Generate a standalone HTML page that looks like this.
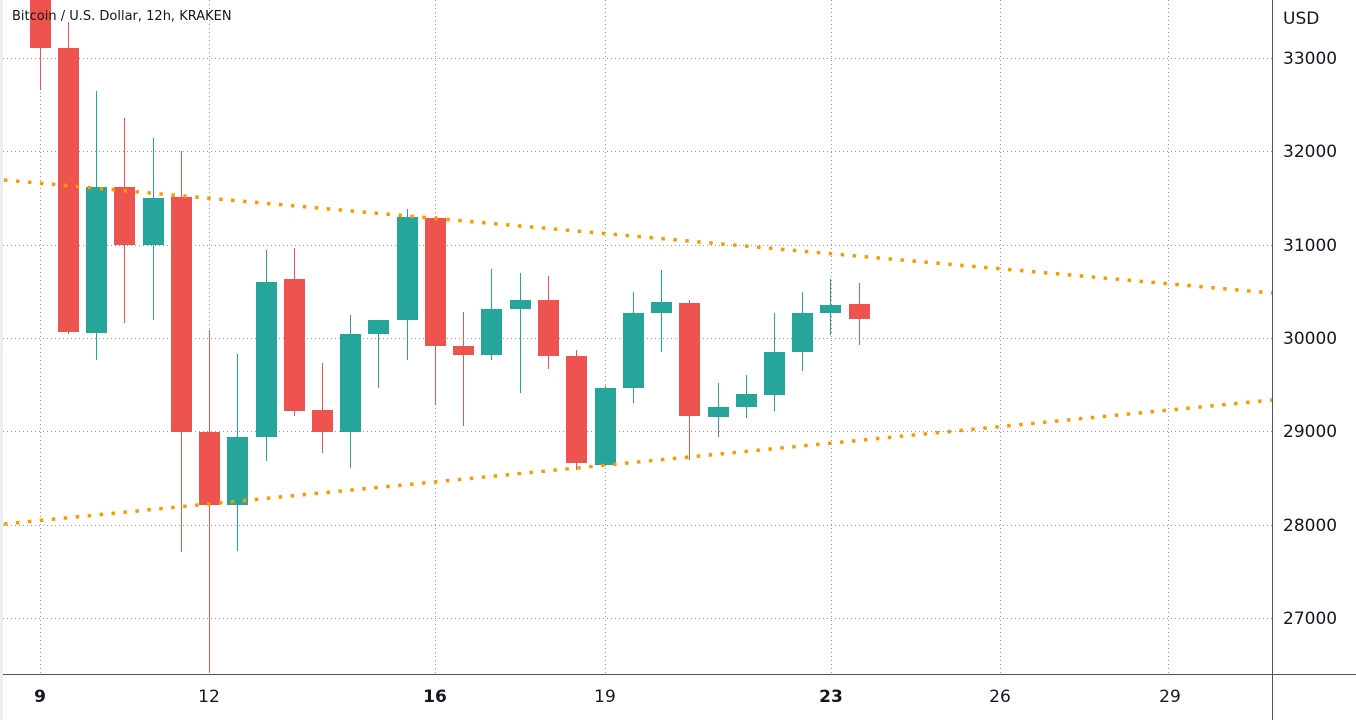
<!DOCTYPE html>
<html><head><meta charset="utf-8"><style>
html,body{margin:0;padding:0;background:#fff;}
svg{display:block;font-family:"DejaVu Sans","Liberation Sans",sans-serif;}
</style></head><body>
<svg width="1356" height="720" viewBox="0 0 1356 720" xmlns="http://www.w3.org/2000/svg">
<rect x="0" y="0" width="1356" height="720" fill="#fff"/>
<rect x="0" y="0" width="3" height="720" fill="#eceef3"/>
<g stroke="#9598a1" stroke-width="1" stroke-dasharray="1,3">
<line x1="3" y1="58.5" x2="1272" y2="58.5"/><line x1="3" y1="151.5" x2="1272" y2="151.5"/>
<line x1="3" y1="245.5" x2="1272" y2="245.5"/><line x1="3" y1="338.5" x2="1272" y2="338.5"/>
<line x1="3" y1="431.5" x2="1272" y2="431.5"/><line x1="3" y1="525.5" x2="1272" y2="525.5"/>
<line x1="3" y1="618.5" x2="1272" y2="618.5"/>
<line x1="40.5" y1="0" x2="40.5" y2="674"/><line x1="209.5" y1="0" x2="209.5" y2="674"/>
<line x1="435.5" y1="0" x2="435.5" y2="674"/><line x1="605.5" y1="0" x2="605.5" y2="674"/>
<line x1="831.5" y1="0" x2="831.5" y2="674"/><line x1="1000.5" y1="0" x2="1000.5" y2="674"/>
<line x1="1168.5" y1="0" x2="1168.5" y2="674"/>
</g>
<g id="c"></g>
<g stroke="#ff9800" stroke-width="3.5" stroke-dasharray="3.5,8.5">
<line x1="4" y1="180" x2="1272" y2="293"/>
<line x1="4" y1="524" x2="1272" y2="400"/>
</g>
<line x1="1272.5" y1="0" x2="1272.5" y2="720" stroke="#50535e" stroke-width="1"/>
<line x1="3" y1="674.5" x2="1356" y2="674.5" stroke="#50535e" stroke-width="1"/>
<text x="12" y="20" font-size="13" fill="#131722">Bitcoin / U.S. Dollar, 12h, KRAKEN</text>
<g font-size="17" fill="#131722">
<text x="1283" y="24">USD</text>
<text x="1283" y="64">33000</text><text x="1283" y="157">32000</text>
<text x="1283" y="251">31000</text><text x="1283" y="344">30000</text>
<text x="1283" y="437">29000</text><text x="1283" y="531">28000</text>
<text x="1283" y="624">27000</text>
</g>
<g font-size="17" fill="#131722" text-anchor="middle">
<text x="40" y="702" font-weight="bold">9</text>
<text x="209" y="702">12</text>
<text x="435" y="702" font-weight="bold">16</text>
<text x="605" y="702">19</text>
<text x="831" y="702" font-weight="bold">23</text>
<text x="1000" y="702">26</text>
<text x="1170" y="702">29</text>
</g>
</svg>
<script>
var d=[[40,'r',-5,48,-5,90],[68,'r',48,332,22,334],[96,'g',187,333,91,360],[124,'r',187,245,118,323],[153,'g',198,245,138,320],[181,'r',197,432,151,552],[209,'r',432,505,330,672],[237,'g',437,505,354,551],[266,'g',282,437,250,461],[294,'r',279,411,248,416],[322,'r',410,432,363,453],[350,'g',334,432,315,468],[378,'g',320,334,320,388],[407,'g',217,320,209,360],[435,'r',218,346,216,405],[463,'r',346,355,312,426],[491,'g',309,355,269,360],[520,'g',300,309,273,393],[548,'r',300,356,276,369],[576,'r',356,463,350,470],[605,'g',388,465,386,466],[633,'g',313,388,292,403],[661,'g',302,313,270,352],[689,'r',303,416,300,460],[718,'g',407,417,383,437],[746,'g',394,407,375,418],[774,'g',352,395,313,411],[802,'g',313,352,292,371],[830,'g',305,313,279,335],[859,'r',304,319,283,345]];
var s='';d.forEach(function(c){var col=c[1]=='r'?'#ef5350':'#26a69a';
s+='<line x1="'+(c[0]+0.5)+'" y1="'+c[4]+'" x2="'+(c[0]+0.5)+'" y2="'+c[5]+'" stroke="'+col+'" stroke-width="1"/>';
s+='<rect x="'+(c[0]-10)+'" y="'+c[2]+'" width="21" height="'+Math.max(1,c[3]-c[2])+'" fill="'+col+'"/>';});
document.getElementById('c').innerHTML=s;
</script>
</body></html>
